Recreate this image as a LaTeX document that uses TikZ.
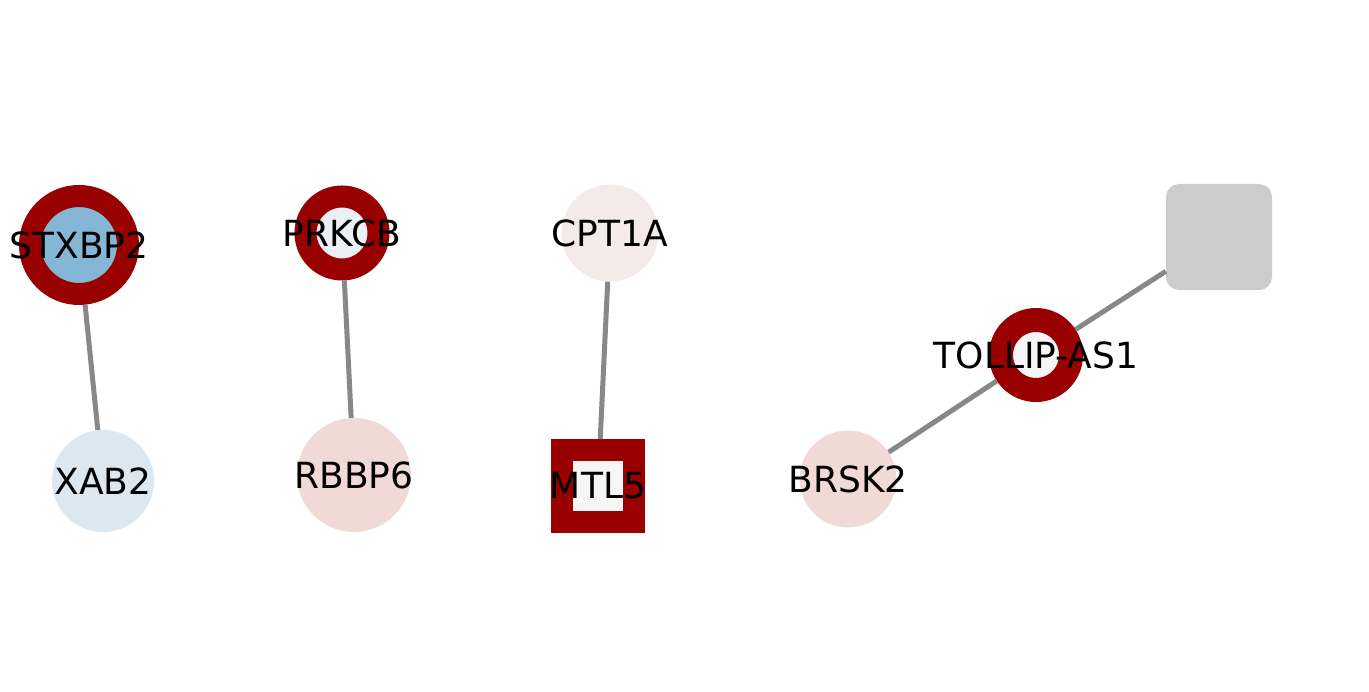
\documentclass[tikz,border=0pt]{standalone}
\usepackage{fontspec}
\setmainfont{DejaVu Sans}
\definecolor{ringred}{HTML}{990000}
\definecolor{edgegray}{HTML}{888888}
\definecolor{boxgray}{HTML}{CCCCCC}
\definecolor{blueA}{HTML}{84B6D6}
\definecolor{blueB}{HTML}{DCE8F1}
\definecolor{blueC}{HTML}{EAF0F4}
\definecolor{pinkA}{HTML}{F1DAD6}
\definecolor{pinkB}{HTML}{F4EAEA}
\definecolor{whiteish}{HTML}{F6F6F6}
\newcommand{\genefont}{\fontsize{36}{40}\selectfont}
\begin{document}
\begin{tikzpicture}[x=1pt, y=-1pt,
  gene/.style={circle, inner sep=0, minimum size=#1},
  ringgene/.style={circle, inner sep=0, draw=ringred, line width=22, minimum size=#1},
  edge/.style={edgegray, line width=5}]
\useasboundingbox (0, 0) rectangle (1369, 692);

\node [ringgene=98, fill=blueA, label={[font=\genefont]center:STXBP2}] (stxbp2) at (79, 245) {};
\node [gene=102, fill=blueB, label={[font=\genefont]center:XAB2}] (xab2) at (103, 481) {};

\node [ringgene=73, fill=blueC, label={[font=\genefont]center:PRKCB}] (prkcb) at (342, 233) {};
\node [gene=114, fill=pinkA, label={[font=\genefont]center:RBBP6}] (rbbp6) at (354, 475) {};

\node [gene=97, fill=pinkB, label={[font=\genefont]center:CPT1A}] (cpt1a) at (610, 233) {};
\node [rectangle, inner sep=0, draw=ringred, line width=22, minimum size=72, fill=whiteish,
  label={[font=\genefont]center:MTL5}] (mtl5) at (598, 486) {};

\node [gene=97, fill=pinkA, label={[font=\genefont]center:BRSK2}] (brsk2) at (848, 479) {};
\node [ringgene=70, line width=24, fill=whiteish, label={[font=\genefont]center:TOLLIP-AS1}] (tollip) at (1036, 355) {};
\node [rectangle, inner sep=0, minimum size=106, rounded corners=13, fill=boxgray] (grey) at (1219, 237) {};

\draw [edge] (stxbp2) -- (xab2);
\draw [edge] (prkcb) -- (rbbp6);
\draw [edge] (cpt1a) -- (mtl5);
\draw [edge] (brsk2) -- (tollip);
\draw [edge] (tollip) -- (grey);
\end{tikzpicture}
\end{document}
